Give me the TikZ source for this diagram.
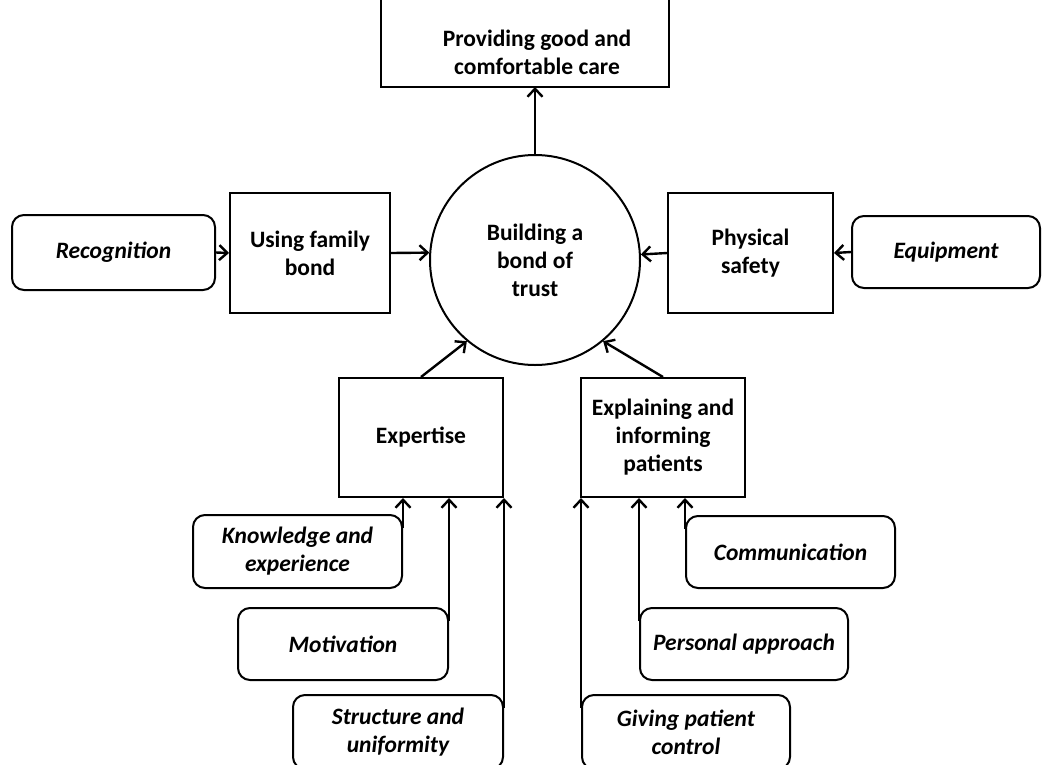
\documentclass[tikz,border=0pt]{standalone}
\usepackage{fontspec}
\setmainfont{Carlito}
\usetikzlibrary{arrows.meta}
\begin{document}
\begin{tikzpicture}[x=1pt,y=-1pt,
  box/.style={draw, line width=2pt, align=center, inner sep=0pt,
    font=\fontsize{23.5}{28}\selectfont\bfseries},
  leaf/.style={box, rounded corners=12pt,
    font=\fontsize{23.5}{28}\selectfont\bfseries\itshape},
  arr/.style={line width=2.4pt, -{Straight Barb[length=8pt,width=15pt,line width=2.4pt]}},
]
\useasboundingbox (0,0) rectangle (1049,764);
\clip (0,0) rectangle (1049,764);

% top box (cut off)
\node[align=center, font=\fontsize{23.5}{28}\selectfont\bfseries] (care) at (537,52) {Providing good and\\comfortable care};
\draw[line width=2pt] (381,-10) |- (669,87) -- (669,-10);

\node[box, circle, minimum size=210pt] (trust) at (535,260) {Building a\\bond of\\trust};
\coordinate (careb) at (535,87);

\node[leaf, minimum width=203pt, minimum height=75pt] (rec) at (113.5,252.5) {Recognition};
\node[box, minimum width=160pt, minimum height=120pt] (fam) at (310,253) {Using family\\bond};
\node[box, minimum width=165pt, minimum height=120pt] (phys) at (750.5,253) {Physical\\safety};
\node[leaf, minimum width=188pt, minimum height=72pt] (equip) at (946,252) {Equipment};

\node[box, minimum width=164pt, minimum height=119pt] (expx) at (421,437.5) {Expertise};
\node[box, minimum width=164pt, minimum height=119pt] (expl) at (663,437.5) {Explaining and\\informing\\patients};

\node[leaf, minimum width=209pt, minimum height=73pt] (know) at (297.5,551.5) {Knowledge and\\experience};
\node[leaf, minimum width=210pt, minimum height=72pt] (motiv) at (343,644) {Motivation};
\node[leaf, minimum width=210pt, minimum height=74pt] (struct) at (398,732) {Structure and\\uniformity};

\node[leaf, minimum width=209pt, minimum height=72pt] (comm) at (790.5,552) {Communication};
\node[leaf, minimum width=208pt, minimum height=72pt] (pers) at (744,644) {Personal approach};
\node[leaf, minimum width=208pt, minimum height=74pt] (give) at (686,732) {Giving patient\\control};

% connectors
\draw[arr] (trust.north) -- (careb);
\draw[arr] (rec.east) -- (fam.west);
\draw[arr] (fam.east) -- (trust.176.2);
\draw[arr] (equip.west) -- (phys.east);
\draw[arr] (phys.west) -- (trust.3.8);
\draw[arr] (expx.north) -- (trust.230);
\draw[arr] (expl.north) -- (trust.310);

\draw[arr] ([yshift=-14pt]know.north east) -- (know.north east |- expx.south);
\draw[arr] ([yshift=-14pt]motiv.north east) -- (motiv.north east |- expx.south);
\draw[arr] ([yshift=-14pt]struct.north east) -- (struct.north east |- expx.south);
\draw[arr] ([yshift=-14pt]comm.north west) -- (comm.north west |- expl.south);
\draw[arr] ([yshift=-14pt]pers.north west) -- (pers.north west |- expl.south);
\draw[arr] ([yshift=-14pt]give.north west) -- (give.north west |- expl.south);
\end{tikzpicture}
\end{document}
